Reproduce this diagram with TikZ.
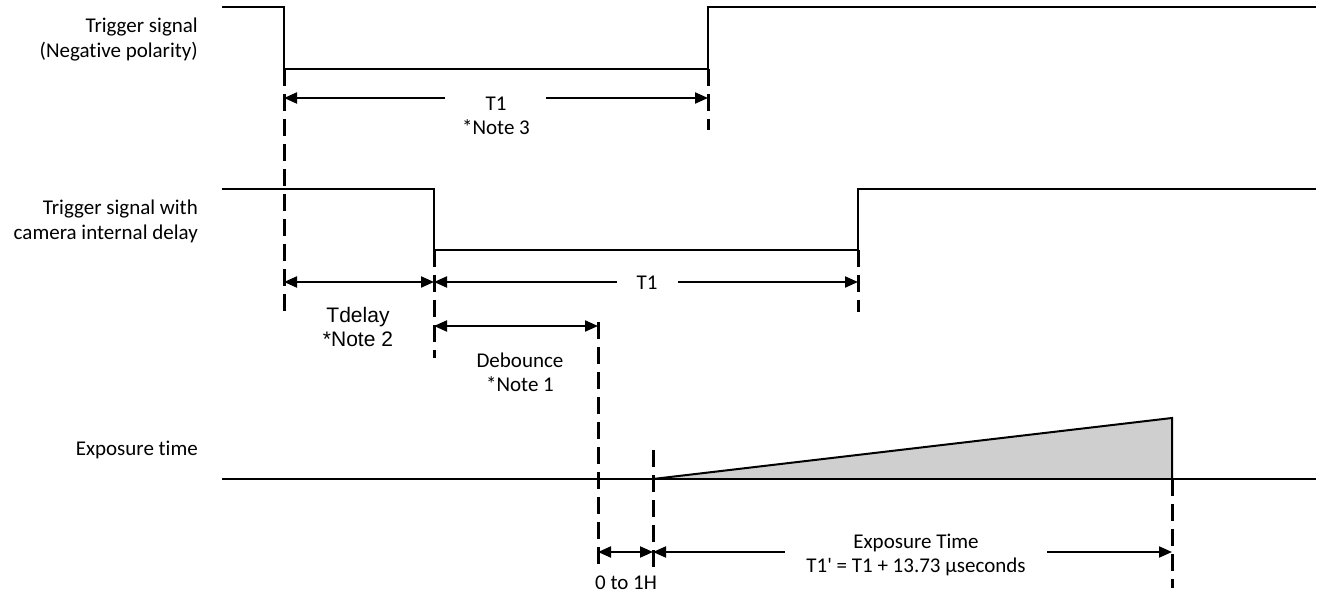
\documentclass[tikz,border=0pt]{standalone}
\usepackage{fontspec}
\setmainfont{Carlito}[Ligatures={CommonOff,TeXOff}]
\newfontfamily\arialfont{Liberation Sans}
\usetikzlibrary{arrows.meta}
\begin{document}
\begin{tikzpicture}[x=1pt,y=-1pt,
  sig/.style={line width=2pt},
  guide/.style={line width=3pt, dash pattern=on 17pt off 8pt},
  tip/.tip={Triangle[length=13pt,width=11pt]},
  dimlr/.style={line width=2pt,{tip}-{tip}},
  diml/.style={line width=2pt,{tip}-},
  dimr/.style={line width=2pt,-{tip}},
  lbl/.style={font=\fontsize{21}{25}\selectfont, align=right, inner sep=0pt, anchor=east},
  txt/.style={font=\fontsize{21}{24}\selectfont, align=center, inner sep=0pt},
  atxt/.style={font=\arialfont\fontsize{21}{24}\selectfont, align=center, inner sep=0pt}]
\useasboundingbox (0,0) rectangle (1322,593);

% key coordinates
\coordinate (s1a) at (222,7);
\coordinate (s1b) at (284,7);
\coordinate (s1c) at (284,69);
\coordinate (s1d) at (708,69);
\coordinate (s1e) at (708,7);
\coordinate (s1f) at (1316,7);
\coordinate (s2a) at (222,189);
\coordinate (s2b) at (434,189);
\coordinate (s2c) at (434,250);
\coordinate (s2d) at (858,250);
\coordinate (s2e) at (858,189);
\coordinate (s2f) at (1316,189);
\coordinate (eA) at (222,479);
\coordinate (eB) at (653,479);
\coordinate (eT) at (1172,418);
\coordinate (eC) at (1172,479);
\coordinate (eD) at (1316,479);

% labels
\node[lbl] (l1) at (198,40) {Trigger signal\\(Negative polarity)};
\node[lbl] (l2) at (198,221) {Trigger signal with\\camera internal delay};
\node[lbl] (l3) at (198,450) {Exposure time};

% exposure ramp
\fill[black!19] (eB) -- (eT) -- (eC) -- cycle;

% signals
\draw[sig] (s1a) -- (s1b) -- (s1c) -- (s1d) -- (s1e) -- (s1f);
\draw[sig] (s2a) -- (s2b) -- (s2c) -- (s2d) -- (s2e) -- (s2f);
\draw[sig] (eA) -- (eD);
\draw[sig] (eB) -- (eT) -- (eC);

% guide lines
\coordinate (g1b) at (284,312);
\coordinate (g2b) at (708,130);
\coordinate (g3b) at (434,358);
\coordinate (g4b) at (858,312);
\coordinate (g5a) at (598,322);
\coordinate (g5b) at (598,567);
\coordinate (g6a) at (653,450);
\coordinate (g6b) at (653,567);
\coordinate (g7b) at (1172,588);
\draw[guide] (s1c) -- (g1b);
\draw[guide] (s1d) -- (g2b);
\draw[guide] (s2c) -- (g3b);
\draw[guide] (s2d) -- (g4b);
\draw[guide] (g5a) -- (g5b);
\draw[guide] (g6a) -- (g6b);
\draw[guide] (eC) -- (g7b);

% T1 (row 1)
\coordinate (a1l) at (284,98);
\coordinate (a1r) at (708,98);
\node[txt] (t1) at (496,116) {T1\\*Note 3};
\draw[diml] (a1l) -- (445,98);
\draw[dimr] (546,98) -- (a1r);

% Tdelay
\coordinate (a2l) at (284,282);
\coordinate (a2r) at (434,282);
\draw[dimlr] (a2l) -- (a2r);
\node[atxt] (td) at (358,327) {Tdelay\\*Note 2};

% T1 (row 2)
\coordinate (a3r) at (858,282);
\node[txt] (t1b) at (647,283) {T1};
\draw[diml] (a2r) -- (617,282);
\draw[dimr] (678,282) -- (a3r);

% Debounce
\coordinate (a4l) at (434,326);
\coordinate (a4r) at (598,326);
\draw[dimlr] (a4l) -- (a4r);
\node[txt] (db) at (520,372) {Debounce\\*Note 1};

% 0 to 1H
\coordinate (a5l) at (598,552);
\coordinate (a5r) at (653,552);
\draw[dimlr] (a5l) -- (a5r);
\node[txt] (h) at (626,583) {0 to 1H};

% Exposure time
\coordinate (a6r) at (1172,552);
\draw[diml] (a5r) -- (785,552);
\draw[dimr] (1047,552) -- (a6r);
\node[txt] (et) at (916,555) {Exposure Time\\T1' = T1 + 13.73 µseconds};
\end{tikzpicture}
\end{document}
